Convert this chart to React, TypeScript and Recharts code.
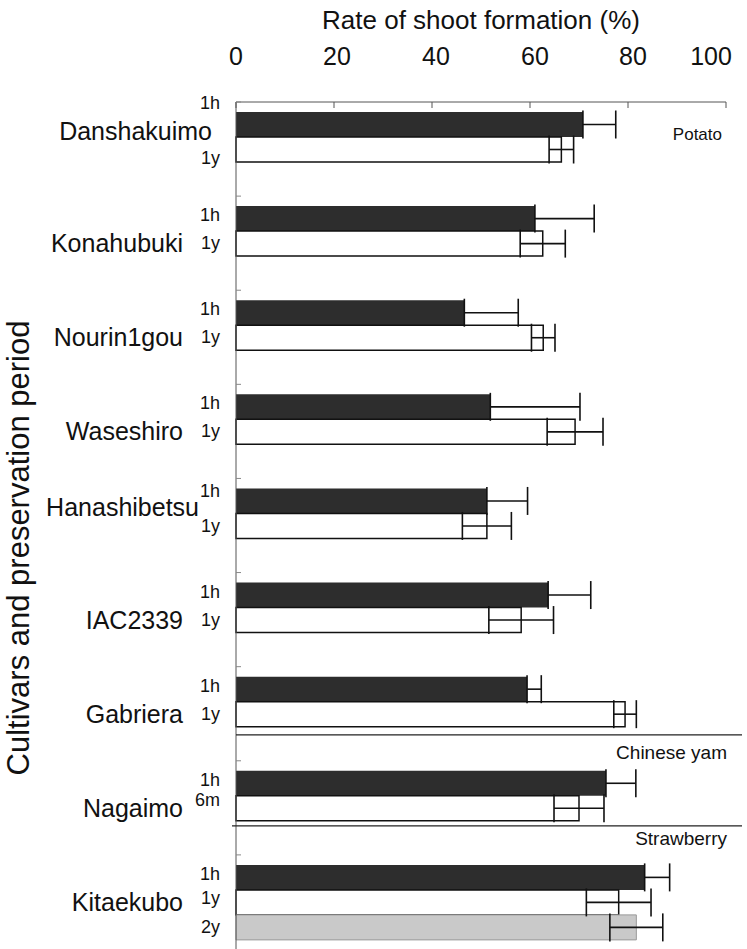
import React from 'react';
import { BarChart, Bar, XAxis, YAxis, ErrorBar } from 'recharts';

// ---- data ----
const cultivars = ['Danshakuimo', 'Konahubuki', 'Nourin1gou', 'Waseshiro', 'Hanashibetsu', 'IAC2339', 'Gabriera', 'Nagaimo', 'Kitaekubo'];
const periods = [
  ['1h', '1y'], ['1h', '1y'], ['1h', '1y'], ['1h', '1y'], ['1h', '1y'], ['1h', '1y'], ['1h', '1y'], ['1h', '6m'], ['1h', '1y', '2y'],
];
const rate1h = [70.8, 61.0, 46.6, 51.9, 51.2, 63.7, 59.4, 75.5, 83.4];
const err1h = [6.7, 12.1, 11.0, 18.3, 8.3, 8.7, 2.9, 6.1, 5.1];
const rate2nd = [66.4, 62.6, 62.7, 69.2, 51.2, 58.2, 79.4, 70.0, 78.1];
const err2nd = [2.5, 4.6, 2.4, 5.7, 5.0, 6.6, 2.3, 5.1, 6.6];
const rate3rd = [null, null, null, null, null, null, null, null, 81.7];
const err3rd = [null, null, null, null, null, null, null, null, 5.4];
const xTicks = [0, 20, 40, 60, 80, 100];
const cropGroups: Record<string, string> = { Danshakuimo: 'Potato', Nagaimo: 'Chinese yam', Kitaekubo: 'Strawberry' };

const rows = cultivars.map((name, i) => ({
  name,
  h1: rate1h[i], e1: err1h[i],
  p2: rate2nd[i], e2: err2nd[i],
  p3: rate3rd[i], e3: err3rd[i],
}));

// ---- layout ----
const FONT = '"Liberation Sans", Arial, Helvetica, sans-serif';
const BAND_HALF = 47.05;
const xLabelDx: Record<number, number> = { 0: 0, 20: 3, 40: 4, 60: 5, 80: 5, 100: -15 };
const nameLayout: Record<string, { dy: number; endDx: number }> = {
  Danshakuimo: { dy: -18, endDx: -24 },
  Hanashibetsu: { dy: -19, endDx: -37 },
};
const periodDy: Record<string, number[]> = {
  Danshakuimo: [-46, 9],
  Hanashibetsu: [-35, 0],
  Nagaimo: [-28, -8],
  Kitaekubo: [-28, -4, 25],
};
const cropLayout: Record<string, { dy: number; x: number; size: number }> = {
  Potato: { dy: -9, x: 722, size: 17 },
  'Chinese yam': { dy: -49, x: 727, size: 19 },
  Strawberry: { dy: -57, x: 727, size: 19 },
};
const sepLayout: Record<string, { dy: number; x1: number }> = {
  Nagaimo: { dy: -73, x1: 236 },
  Kitaekubo: { dy: -76, x1: 232 },
};

const XTick = (props: any) => {
  const { x, y, payload } = props;
  const dx = xLabelDx[payload.value] || 0;
  return (
    <g>
      <text x={x + dx} y={y - 37} textAnchor="middle" fontSize={25} fontFamily={FONT} fill="#111">{payload.value}</text>
      <line x1={x} x2={x} y1={y} y2={y + 6} stroke="#555" strokeWidth={1} />
    </g>
  );
};

const YTick = (props: any) => {
  const { x, y, payload } = props;
  const name = payload.value as string;
  const i = cultivars.indexOf(name);
  const nl = nameLayout[name] || { dy: 0, endDx: -53 };
  const pd = periodDy[name] || [-28, 0];
  const crop = cropGroups[name];
  const sep = sepLayout[name];
  return (
    <g>
      <line x1={x} x2={x + 5} y1={y - BAND_HALF} y2={y - BAND_HALF} stroke="#888" strokeWidth={1} />
      <text x={x + nl.endDx} y={y + nl.dy + 9} textAnchor="end" fontSize={25} fontFamily={FONT} fill="#111">{name}</text>
      {(periods[i] || []).map((p, j) => (
        <text key={p + j} x={x - 16} y={y + pd[j] + 6} textAnchor="end" fontSize={18} fontFamily={FONT} fill="#111">{p}</text>
      ))}
      {sep && <line x1={sep.x1} x2={742} y1={y + sep.dy} y2={y + sep.dy} stroke="#222" strokeWidth={1.3} />}
      {crop && (
        <text x={cropLayout[crop].x} y={y + cropLayout[crop].dy} textAnchor="end" fontSize={cropLayout[crop].size} fontFamily={FONT} fill="#111">{crop}</text>
      )}
    </g>
  );
};

const XTitle = (props: any) => {
  const vb = props.viewBox || { x: 236, y: 0, width: 490, height: 102 };
  return (
    <text x={vb.x + vb.width / 2} y={29} textAnchor="middle" fontSize={26} fontFamily={FONT} fill="#111">
      Rate of shoot formation (%)
    </text>
  );
};

const YTitle = () => {
  const cx = 29;
  const cy = 548;
  return (
    <text x={cx} y={cy} transform={`rotate(-90, ${cx}, ${cy})`} textAnchor="middle" fontSize={31} fontFamily={FONT} fill="#111">
      Cultivars and preservation period
    </text>
  );
};

export default function App() {
  return (
    <div style={{ position: 'absolute', left: 0, top: 0, width: 747, height: 949, background: '#fff', overflow: 'hidden' }}>
      <BarChart
        width={747}
        height={949}
        layout="vertical"
        data={rows}
        margin={{ top: 0, right: 21, bottom: 0, left: 0 }}
        barGap={0}
        barSize={25}
      >
        <XAxis
          type="number"
          orientation="top"
          domain={[0, 100]}
          ticks={xTicks}
          height={102}
          tickSize={0}
          tickMargin={0}
          tick={<XTick />}
          axisLine={{ stroke: '#555', strokeWidth: 1 }}
          label={<XTitle />}
        />
        <YAxis
          type="category"
          dataKey="name"
          width={236}
          tickSize={0}
          tickMargin={0}
          interval={0}
          tick={<YTick />}
          axisLine={{ stroke: '#555', strokeWidth: 1 }}
          label={<YTitle />}
        />
        <Bar dataKey="h1" fill="#2d2d2d" isAnimationActive={false}>
          <ErrorBar dataKey={(d: any) => [0, d.e1]} direction="x" width={14} stroke="#111" strokeWidth={1.6} />
        </Bar>
        <Bar dataKey="p2" fill="#ffffff" stroke="#111" strokeWidth={1.5} isAnimationActive={false}>
          <ErrorBar dataKey="e2" direction="x" width={14} stroke="#111" strokeWidth={1.6} />
        </Bar>
        <Bar dataKey="p3" fill="#c9c9c9" stroke="#999" strokeWidth={1} isAnimationActive={false}>
          <ErrorBar dataKey="e3" direction="x" width={14} stroke="#111" strokeWidth={1.6} />
        </Bar>
      </BarChart>
    </div>
  );
}
